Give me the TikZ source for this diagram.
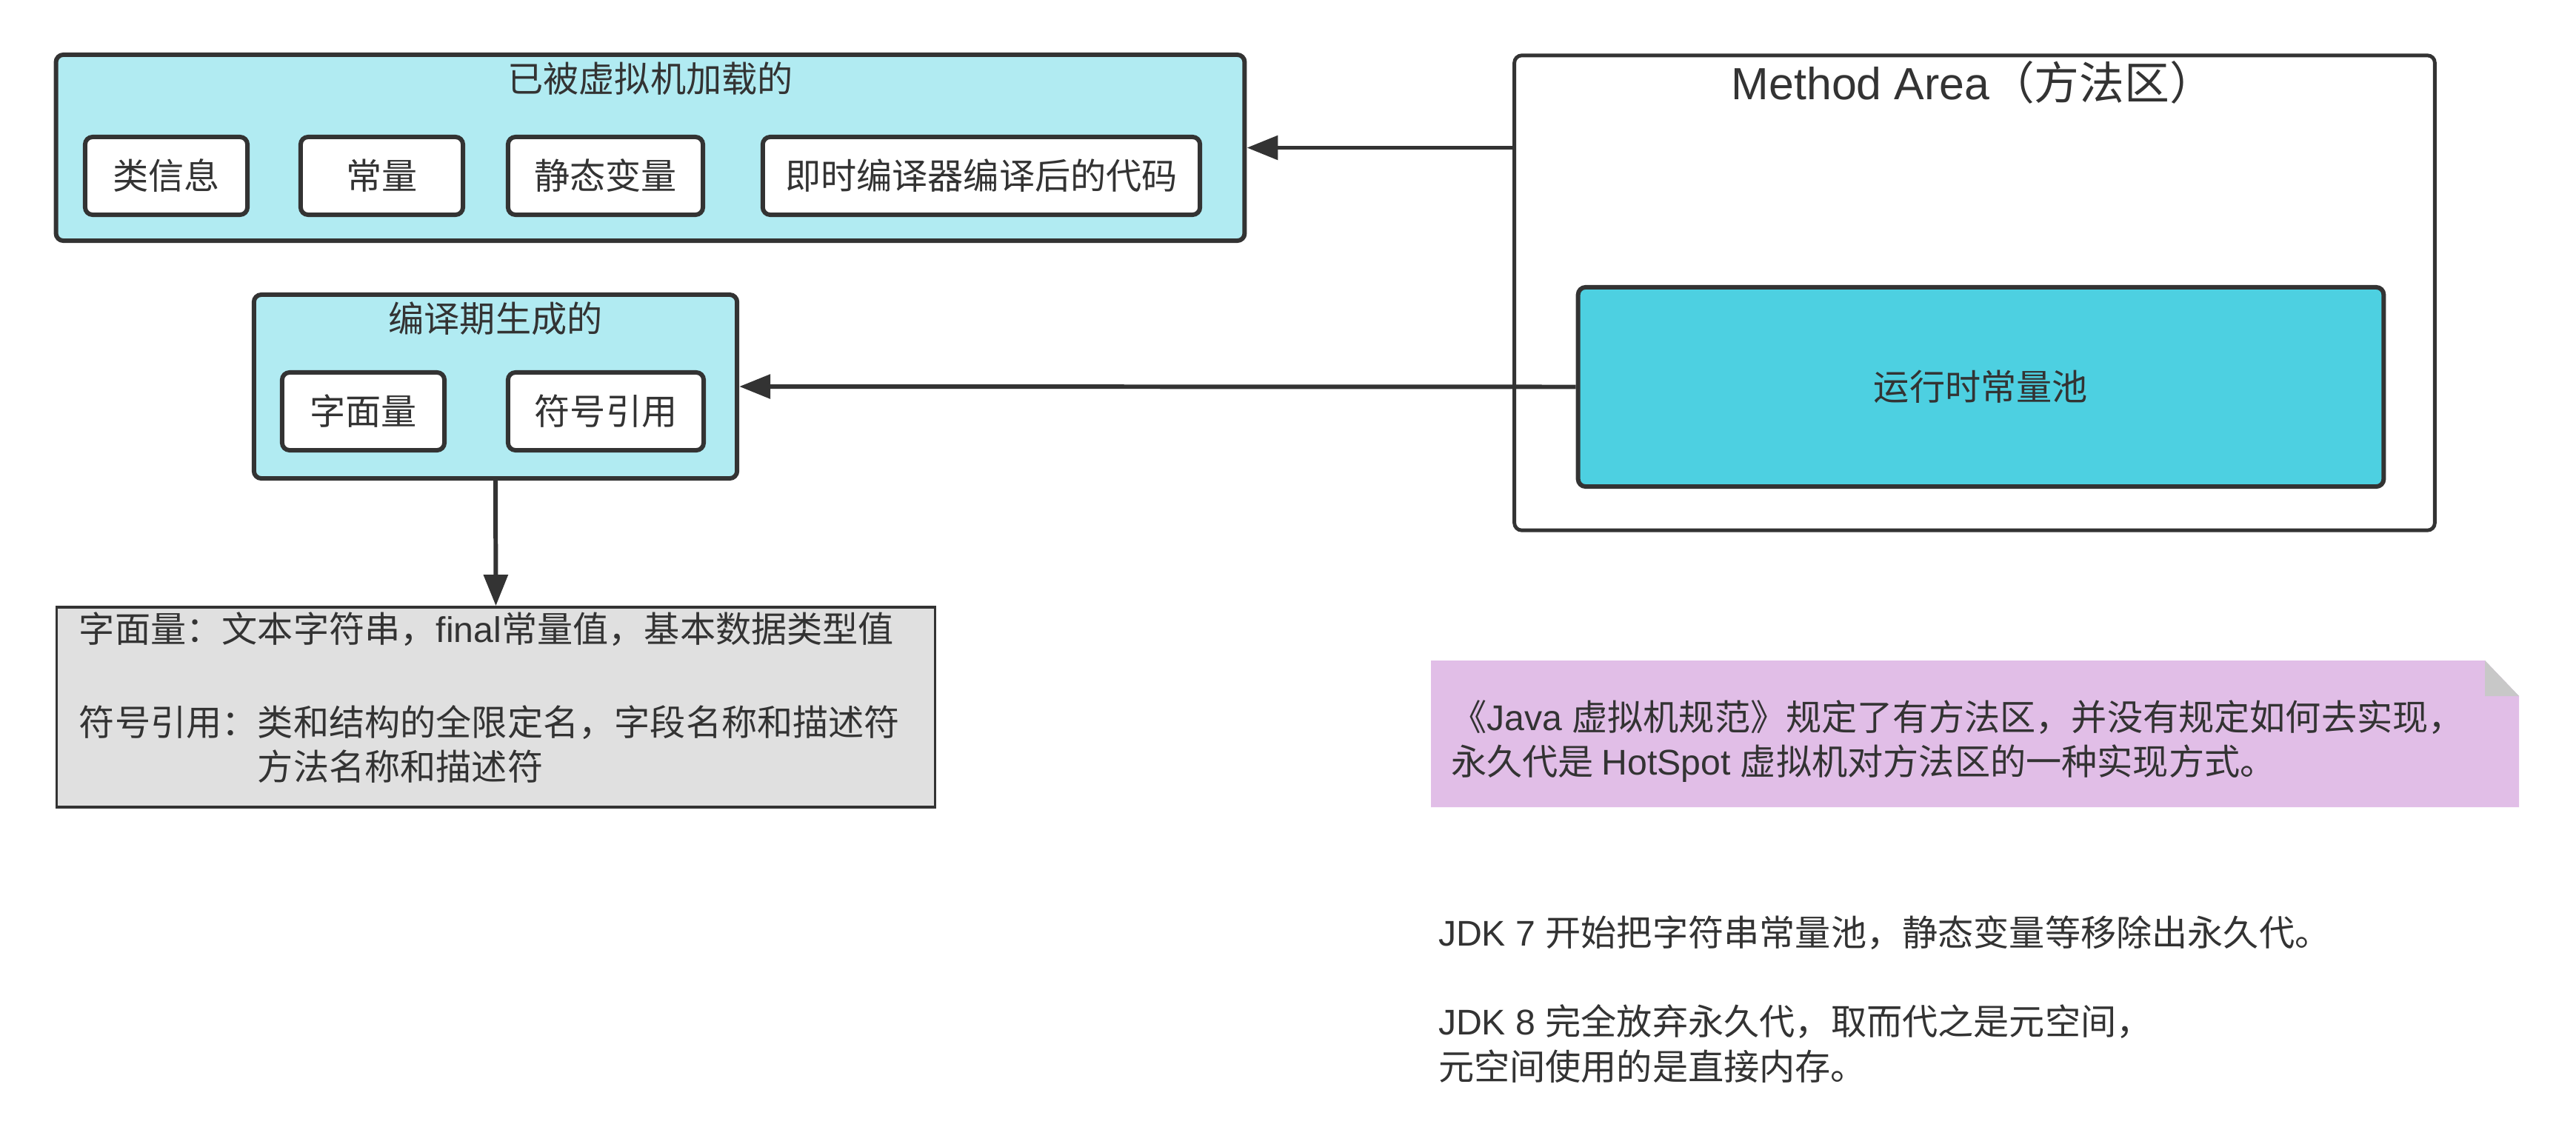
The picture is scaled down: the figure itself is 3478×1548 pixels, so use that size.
\documentclass[tikz,border=0pt]{standalone}
\usepackage{fontspec}
\setmainfont{Noto Sans CJK SC}
\newfontfamily\lat{Liberation Sans}
\usetikzlibrary{arrows.meta,positioning}
\definecolor{ink}{HTML}{333333}
\definecolor{loadcyan}{RGB}{177,235,242}
\definecolor{poolcyan}{RGB}{77,208,225}
\definecolor{detailgray}{RGB}{224,224,224}
\definecolor{notepink}{RGB}{225,190,231}
\definecolor{foldgray}{RGB}{200,200,200}

\begin{document}
\begin{tikzpicture}[x=0.01cm,y=-0.01cm,line width=1.7pt,
                    every node/.style={text=ink,font=\fontsize{13.7pt}{17.07pt}\selectfont},
                    >={Triangle[length=0.42cm,width=0.32cm]}]
	  \tikzstyle{group}=[draw=ink,fill=loadcyan,rounded corners=0.1cm,inner sep=0pt]
	  \tikzstyle{item}=[draw=ink,fill=white,rounded corners=0.1cm,minimum height=1.05cm,inner sep=0pt]
	  \tikzstyle{caption}=[inner sep=0pt]
	  \tikzstyle{plain}=[inner sep=0pt,anchor=north west,align=left]
	  \tikzstyle{link}=[draw=ink,->]

	  \path[use as bounding box,fill=white] (0,0) rectangle (3478,1548);

	  % loaded by the virtual machine
	  \node[group,minimum width=16.04cm,minimum height=2.51cm] (loaded) at (878,199.5) {};
	  \node[caption]                  (loadedTitle) at (878,106)     {已被虚拟机加载的};
	  \node[item,minimum width=2.19cm] (cls)    at (224.5,237.5) {类信息};
	  \node[item,minimum width=2.19cm] (const)  at (515.5,237.5) {常量};
	  \node[item,minimum width=2.63cm] (static) at (817.5,237.5) {静态变量};
	  \node[item,minimum width=5.90cm] (jit)    at (1325,237.5)  {即时编译器编译后的代码};

	  % generated at compile time
	  \node[group,minimum width=6.52cm,minimum height=2.48cm] (compiled) at (669,522) {};
	  \node[caption]                  (compiledTitle) at (669,430) {编译期生成的};
	  \node[item,minimum width=2.19cm] (literal) at (490.5,555.5) {字面量};
	  \node[item,minimum width=2.64cm] (symref)  at (818,555.5)   {符号引用};

	  \node[draw=ink,line width=1pt,fill=detailgray,minimum width=11.85cm,minimum height=2.70cm,inner sep=0pt] (detail) at (669.5,955) {};
	  \node[plain] (detailText) at (104,824) {字面量：文本字符串，{\lat final}常量值，基本数据类型值\\[0.66cm]符号引用：类和结构的全限定名，字段名称和描述符\\\phantom{符号引用：}方法名称和描述符};

	  % method area
	  \node[draw=ink,line width=1.4pt,fill=white,rounded corners=0.1cm,minimum width=12.42cm,minimum height=6.41cm,inner sep=0pt] (method) at (2666,395.5) {};
	  \node[caption,font=\fontsize{17.3pt}{20pt}\selectfont] (methodTitle) at (2664,111) {{\lat Method Area}（方法区）};
	  \node[draw=ink,fill=poolcyan,rounded corners=0.1cm,minimum width=10.87cm,minimum height=2.69cm,inner sep=0pt] (pool) at (2674.5,522.5) {运行时常量池};

	  \path[link] (method.west |- loaded) -- (loaded.east);
	  \path[link] (pool.west) -- (compiled.east);
	  \path[link] (compiled.south) -- (detail.north);

	  % note
	  \fill[notepink] (1932,892) -- (3355,892) -- (3401,940) -- (3401,1090) -- (1932,1090) -- cycle;
	  \fill[foldgray] (3355,892) -- (3355,940) -- (3401,940) -- cycle;
	  \node[plain] (noteText) at (1956,943) {《{\lat Java }虚拟机规范》规定了有方法区，并没有规定如何去实现，\\永久代是 {\lat HotSpot }虚拟机对方法区的一种实现方式。};

	  \node[plain] (jdkText) at (1939,1234) {{\lat JDK 7 }开始把字符串常量池，静态变量等移除出永久代。\\[0.6cm]{\lat JDK 8 }完全放弃永久代，取而代之是元空间，\\元空间使用的是直接内存。};
\end{tikzpicture}
\end{document}
